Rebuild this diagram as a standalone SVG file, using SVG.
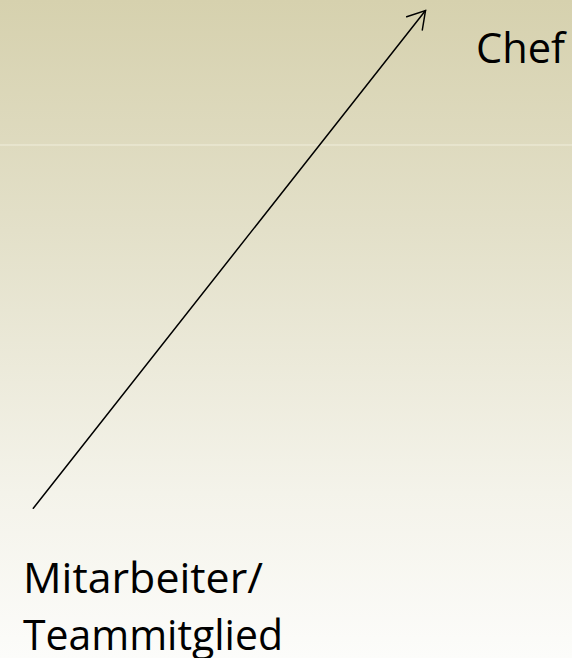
<svg xmlns="http://www.w3.org/2000/svg" width="572" height="658" viewBox="0 0 572 658">
<defs>
<linearGradient id="bg" x1="0" y1="0" x2="0" y2="1">
<stop offset="0" stop-color="#d6d1ae"/>
<stop offset="0.35" stop-color="#e3e0c9"/>
<stop offset="0.75" stop-color="#f4f3ea"/>
<stop offset="1" stop-color="#fcfcfa"/>
</linearGradient>
<style>
.lbl{font-family:"Open Sans","Liberation Sans",sans-serif;font-size:42px;fill:#000}
.conn{stroke:#000;stroke-width:1.5;fill:none;stroke-linecap:round}
</style>
</defs>
<rect width="572" height="658" fill="url(#bg)"/>
<line x1="0" y1="145" x2="572" y2="145" stroke="#f0eedc" stroke-width="1"/>
<g id="connectors">
<line class="conn" x1="33.3" y1="508.3" x2="425.5" y2="10.5"/>
<polyline class="conn" points="406.7,16.7 425.5,10.5 422.3,30"/>
</g>
<g id="chef">
<text class="lbl" x="476" y="63" textLength="89" lengthAdjust="spacingAndGlyphs">Chef</text>
</g>
<g id="mitarbeiter">
<text class="lbl" x="23" y="593" textLength="240" lengthAdjust="spacingAndGlyphs">Mitarbeiter/</text>
<text class="lbl" x="23" y="650" textLength="260" lengthAdjust="spacingAndGlyphs">Teammitglied</text>
</g>
</svg>
